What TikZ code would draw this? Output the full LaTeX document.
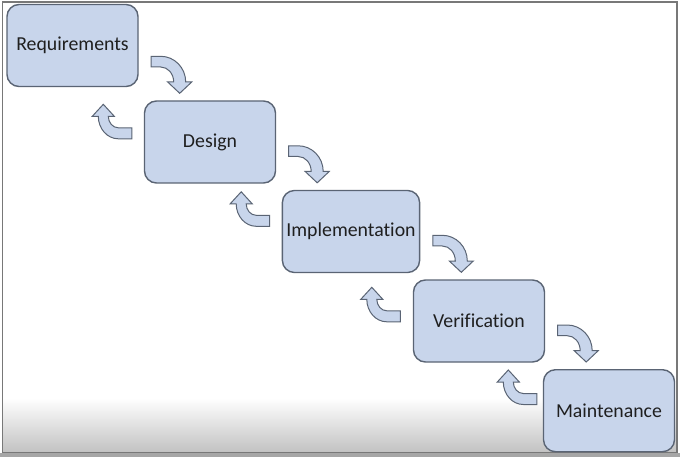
\documentclass[tikz,border=0pt]{standalone}
\usepackage{fontspec}
\setmainfont[Ligatures=NoCommon]{Carlito}
\usetikzlibrary{calc}

\definecolor{boxfill}{RGB}{200,213,235}
\definecolor{boxline}{RGB}{90,100,116}
\definecolor{frameline}{RGB}{120,120,120}

\tikzset{
  phase/.style={draw=boxline, fill=boxfill, line width=1.4pt, rounded corners=12pt,
    minimum width=131pt, minimum height=82pt, inner xsep=4pt,
    font=\fontsize{19.8}{23}\selectfont, text=black!88},
  turn/.style={draw=boxline, fill=boxfill, line width=1pt},
  fwdturn/.pic={
    \path[turn] (-28.5,-37) -- (-19,-37) .. controls (-5.2,-37) and (6,-25.5) .. (6,-11.3)
      -- (12,-11.3) -- (0,0) -- (-12,-11.3) -- (-6,-11.3)
      .. controls (-6,-19.6) and (-11.8,-26.3) .. (-19,-26.3) -- (-28.5,-26.3) -- cycle;
  },
  backturn/.pic={
    \path[turn] (0,0) -- (11,12) -- (5,12) .. controls (5,18.3) and (9.5,23.5) .. (15,23.5)
      -- (28.5,23.5) -- (28.5,34.5) -- (15,34.5)
      .. controls (4,34.5) and (-5,24.4) .. (-5,12) -- (-11,12) -- cycle;
  },
}

\begin{document}
\begin{tikzpicture}[x=1pt,y=-1pt]
    \useasboundingbox (0,0) rectangle (680,457);

    % background and frame
    \fill[white] (0,0) rectangle (680,457);
    \fill[black!35] (0,453) rectangle (680,457);
    \shade[top color=white, bottom color=black!24] (2.5,398) rectangle (677,452.5);
    \draw[frameline, line width=1.5pt] (2.5,2) rectangle (677,452.5);

    % phases
    \node[phase] (req)   at (72.5,45.5)  {Requirements};
    \node[phase] (des)   at (210,142)    {Design};
    \node[phase] (impl)  at (351,231.5)  {Implementation};
    \node[phase] (verif) at (479,321)    {Verification};
    \node[phase] (maint) at (609,410.7)  {Maintenance};

    % forward turns
    \pic at ($(req.east |- des.north)+(41,-7)$)     {fwdturn};
    \pic at ($(des.east |- impl.north)+(41,-7)$)    {fwdturn};
    \pic at ($(impl.east |- verif.north)+(41,-7)$)  {fwdturn};
    \pic at ($(verif.east |- maint.north)+(41,-7)$) {fwdturn};

    % back turns
    \pic at ($(des.north west)+(-40.5,4)$)   {backturn};
    \pic at ($(impl.north west)+(-40.5,2)$)  {backturn};
    \pic at ($(verif.north west)+(-41,8)$)   {backturn};
    \pic at ($(maint.north west)+(-34.5,1)$) {backturn};

\end{tikzpicture}
\end{document}
